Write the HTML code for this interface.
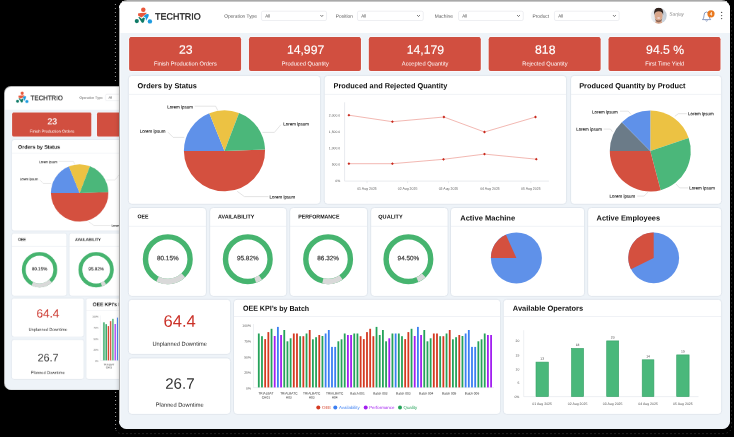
<!DOCTYPE html>
<html><head><meta charset="utf-8"><style>
html,body{margin:0;padding:0;}
body{width:734px;height:437px;overflow:hidden;position:relative;background:#000;font-family:"Liberation Sans", sans-serif;}
.win{position:absolute;width:611px;height:427.5px;border-radius:7.5px;background:#eef3f8;overflow:hidden;}
svg{position:absolute;left:0;top:0;font-family:"Liberation Sans", sans-serif;text-rendering:geometricPrecision;will-change:transform;}
</style></head><body>
<div style="position:absolute;left:4.1px;top:85.9px;width:434px;height:304px;border-radius:7px;background:#b4b4b4"></div>
<div class="win" style="left:4.78px;top:86.6px;transform:scale(0.7074);transform-origin:0 0;border-radius:9px;"><svg width="611" height="428" viewBox="119 1 611 428"><rect x="119" y="1" width="611" height="32" rx="0" fill="#ffffff"/><g>
<circle cx="143.3" cy="9.7" r="2.25" fill="#e9573b"/>
<path d="M138 13.6 L140.6 13.1 L146.6 12.7 L146.1 13.9 L143.1 16.2 L141.6 17.4 L138.2 15.8 Z" fill="#e9573b"/>
<path d="M143.4 16.3 L146.1 14.3 Q147.6 13.7 148.4 14.1 Q149.2 15.0 148.3 16.9 L146.9 19.2 L146.1 20.7 L145.7 18.7 L145.5 17.4 Z" fill="#1d9be0"/>
<path d="M138.3 17.0 L139.9 17.3 L141.8 19.0 L143.3 17.4 L144.9 18.1 L144.2 21.2 L143.1 23.1 L141.7 22.6 L140.1 20.1 Z" fill="#0f7b67"/>
<circle cx="136.8" cy="21.1" r="2.1" fill="#0f7b67"/>
<circle cx="149.9" cy="21.4" r="2.2" fill="#1d9be0"/>
</g><text x="155.1" y="19.44" font-size="9" fill="#1e1e1e" text-anchor="start" font-weight="normal" transform="rotate(0.05 155.1 19.44)" stroke="#1e1e1e" stroke-width="0.3" textLength="45.6" lengthAdjust="spacingAndGlyphs">TECHTRIO</text><text x="224.2" y="17.73" font-size="4.8" fill="#555" text-anchor="start" font-weight="normal" transform="rotate(0.05 224.2 17.73)">Operation Type</text><rect x="261.45" y="11.2" width="65.1" height="9.3" rx="1.5" fill="#fff" stroke="#dcdfe4" stroke-width="0.5"/><text x="265.2" y="17.48" font-size="4.4" fill="#444" text-anchor="start" font-weight="normal" transform="rotate(0.05 265.2 17.48)">All</text><polyline points="320.4,15.1 321.8,16.5 323.2,15.1" fill="none" stroke="#444" stroke-width="0.75"/><text x="335.8" y="17.73" font-size="4.8" fill="#555" text-anchor="start" font-weight="normal" transform="rotate(0.05 335.8 17.73)">Position</text><rect x="357.45" y="11.2" width="65.8" height="9.3" rx="1.5" fill="#fff" stroke="#dcdfe4" stroke-width="0.5"/><text x="361.2" y="17.48" font-size="4.4" fill="#444" text-anchor="start" font-weight="normal" transform="rotate(0.05 361.2 17.48)">All</text><polyline points="417.1,15.1 418.5,16.5 419.9,15.1" fill="none" stroke="#444" stroke-width="0.75"/><text x="434.7" y="17.73" font-size="4.8" fill="#555" text-anchor="start" font-weight="normal" transform="rotate(0.05 434.7 17.73)">Machine</text><rect x="458.55" y="11.2" width="64.7" height="9.3" rx="1.5" fill="#fff" stroke="#dcdfe4" stroke-width="0.5"/><text x="462.3" y="17.48" font-size="4.4" fill="#444" text-anchor="start" font-weight="normal" transform="rotate(0.05 462.3 17.48)">All</text><polyline points="517.1,15.1 518.5,16.5 519.9,15.1" fill="none" stroke="#444" stroke-width="0.75"/><text x="532.5" y="17.73" font-size="4.8" fill="#555" text-anchor="start" font-weight="normal" transform="rotate(0.05 532.5 17.73)">Product</text><rect x="554.45" y="11.2" width="64.7" height="9.3" rx="1.5" fill="#fff" stroke="#dcdfe4" stroke-width="0.5"/><text x="558.2" y="17.48" font-size="4.4" fill="#444" text-anchor="start" font-weight="normal" transform="rotate(0.05 558.2 17.48)">All</text><polyline points="613,15.1 614.4,16.5 615.8,15.1" fill="none" stroke="#444" stroke-width="0.75"/><g>
<defs><linearGradient id="avgs" x1="0" y1="0" x2="1" y2="0"><stop offset="0" stop-color="#eef1f4"/><stop offset="1" stop-color="#c3ccd6"/></linearGradient></defs>
<circle cx="658.7" cy="15.7" r="8" fill="url(#avgs)"/>
<clipPath id="avs"><circle cx="658.7" cy="15.7" r="8"/></clipPath>
<g clip-path="url(#avs)">
<path d="M656.2 19.5 L661.2 19.5 L662.5 24 L655 24 Z" fill="#d9a58a"/>
<ellipse cx="658.6" cy="15.8" rx="4" ry="5" fill="#d8a68b"/>
<path d="M654.8 18.2 Q655.6 22 658.6 22.2 Q661.6 22 662.4 18.2 Q661.4 20.4 658.6 20.6 Q655.8 20.4 654.8 18.2Z" fill="#7a5646" opacity="0.8"/>
<path d="M654.2 15.2 Q653.4 7.8 658.7 7.6 Q664 7.8 663.1 15.2 Q662.6 11.4 658.7 11.2 Q654.8 11.4 654.2 15.2Z" fill="#33231d"/>
<ellipse cx="658.7" cy="18" rx="1.6" ry="0.7" fill="#f3dede"/>
</g></g><text x="669.3" y="15.63" font-size="4.8" fill="#8a8a8a" text-anchor="start" font-weight="normal" transform="rotate(0.05 669.3 15.63)" font-style="italic">Sanjay</text><g fill="none" stroke="#5a74a8" stroke-width="0.7">
<path d="M702.5 19.6 Q704 18.6 704 15.5 Q704 12 706.6 12 Q709.2 12 709.2 15.5 Q709.2 18.6 710.7 19.6 Z"/>
<path d="M705.6 20.6 Q706.6 21.6 707.6 20.6"/>
</g>
<circle cx="711" cy="13.8" r="3.6" fill="#e9781e"/><text x="711" y="15.46" font-size="4.6" fill="#fff" text-anchor="middle" font-weight="bold" transform="rotate(0.05 711 15.46)">4</text><circle cx="721.6" cy="12.4" r="0.7" fill="#555"/><circle cx="721.6" cy="15.6" r="0.7" fill="#555"/><circle cx="721.6" cy="18.6" r="0.7" fill="#555"/><rect x="128.4" y="36.5" width="113.4" height="35.2" rx="2.6" fill="#fbfdff"/><rect x="129.1" y="37.2" width="112" height="33.8" rx="2" fill="#d14f40"/><rect x="130.1" y="37.2" width="110" height="0.7" rx="0" fill="#c63f30"/><text x="185.7" y="53.89" font-size="12.2" fill="#fff" text-anchor="middle" font-weight="normal" transform="rotate(0.05 185.7 53.89)" stroke="#fff" stroke-width="0.15">23</text><text x="185.4" y="65.45" font-size="5.7" fill="#fff" text-anchor="middle" font-weight="normal" transform="rotate(0.05 185.4 65.45)">Finish Production Orders</text><rect x="248.25" y="36.5" width="113.4" height="35.2" rx="2.6" fill="#fbfdff"/><rect x="248.95" y="37.2" width="112" height="33.8" rx="2" fill="#d14f40"/><rect x="249.95" y="37.2" width="110" height="0.7" rx="0" fill="#c63f30"/><text x="305.55" y="53.89" font-size="12.2" fill="#fff" text-anchor="middle" font-weight="normal" transform="rotate(0.05 305.55 53.89)" stroke="#fff" stroke-width="0.15">14,997</text><text x="305.25" y="65.45" font-size="5.7" fill="#fff" text-anchor="middle" font-weight="normal" transform="rotate(0.05 305.25 65.45)">Produced Quantity</text><rect x="368.1" y="36.5" width="113.4" height="35.2" rx="2.6" fill="#fbfdff"/><rect x="368.8" y="37.2" width="112" height="33.8" rx="2" fill="#d14f40"/><rect x="369.8" y="37.2" width="110" height="0.7" rx="0" fill="#c63f30"/><text x="425.4" y="53.89" font-size="12.2" fill="#fff" text-anchor="middle" font-weight="normal" transform="rotate(0.05 425.4 53.89)" stroke="#fff" stroke-width="0.15">14,179</text><text x="425.1" y="65.45" font-size="5.7" fill="#fff" text-anchor="middle" font-weight="normal" transform="rotate(0.05 425.1 65.45)">Accepted Quantity</text><rect x="487.95" y="36.5" width="113.4" height="35.2" rx="2.6" fill="#fbfdff"/><rect x="488.65" y="37.2" width="112" height="33.8" rx="2" fill="#d14f40"/><rect x="489.65" y="37.2" width="110" height="0.7" rx="0" fill="#c63f30"/><text x="545.25" y="53.89" font-size="12.2" fill="#fff" text-anchor="middle" font-weight="normal" transform="rotate(0.05 545.25 53.89)" stroke="#fff" stroke-width="0.15">818</text><text x="544.95" y="65.45" font-size="5.7" fill="#fff" text-anchor="middle" font-weight="normal" transform="rotate(0.05 544.95 65.45)">Rejected Quantity</text><rect x="607.8" y="36.5" width="113.4" height="35.2" rx="2.6" fill="#fbfdff"/><rect x="608.5" y="37.2" width="112" height="33.8" rx="2" fill="#d14f40"/><rect x="609.5" y="37.2" width="110" height="0.7" rx="0" fill="#c63f30"/><text x="665.1" y="53.89" font-size="12.2" fill="#fff" text-anchor="middle" font-weight="normal" transform="rotate(0.05 665.1 53.89)" stroke="#fff" stroke-width="0.15">94.5 %</text><text x="664.8" y="65.45" font-size="5.7" fill="#fff" text-anchor="middle" font-weight="normal" transform="rotate(0.05 664.8 65.45)">First Time Yield</text><rect x="128.3" y="75.4" width="192.3" height="128.9" rx="3.5" fill="#fff" stroke="#e1e7ee" stroke-width="1"/><line x1="128.3" y1="94.4" x2="320.6" y2="94.4" stroke="#e6eaf0" stroke-width="0.6"/><text x="137.6" y="88.25" font-size="7.37" fill="#111" text-anchor="start" font-weight="bold" transform="rotate(0.05 137.6 88.25)">Orders by Status</text><rect x="324.2" y="75.4" width="242.4" height="128.9" rx="3.5" fill="#fff" stroke="#e1e7ee" stroke-width="1"/><line x1="324.2" y1="94.4" x2="566.6" y2="94.4" stroke="#e6eaf0" stroke-width="0.6"/><text x="333.6" y="88.25" font-size="7.37" fill="#111" text-anchor="start" font-weight="bold" transform="rotate(0.05 333.6 88.25)">Produced and Rejected Quantity</text><rect x="570.6" y="75.4" width="151.1" height="128.9" rx="3.5" fill="#fff" stroke="#e1e7ee" stroke-width="1"/><line x1="570.6" y1="94.4" x2="721.7" y2="94.4" stroke="#e6eaf0" stroke-width="0.6"/><text x="579.2" y="88.25" font-size="7.37" fill="#111" text-anchor="start" font-weight="bold" transform="rotate(0.05 579.2 88.25)">Produced Quantity by Product</text><path d="M224.5 150.9L265.08 149.48A40.6 40.6 0 1 1 183.9 150.9Z" fill="#d4503f"/><path d="M224.5 150.9L183.9 150.9A40.6 40.6 0 0 1 209.29 113.26Z" fill="#5f91e9"/><path d="M224.5 150.9L209.29 113.26A40.6 40.6 0 0 1 239.05 113Z" fill="#ecc243"/><path d="M224.5 150.9L239.05 113A40.6 40.6 0 0 1 265.08 149.48Z" fill="#4bb77a"/><text x="167.2" y="108.5" font-size="4.45" fill="#222" text-anchor="start" font-weight="normal" transform="rotate(0.05 167.2 108.5)" stroke="#222" stroke-width="0.1">Lorem ipsum</text><polyline points="194.7,106.2 215.6,106.2 217.8,110.6" fill="none" stroke="#c8c8c8" stroke-width="0.5"/><text x="139.7" y="132.8" font-size="4.45" fill="#222" text-anchor="start" font-weight="normal" transform="rotate(0.05 139.7 132.8)" stroke="#222" stroke-width="0.1">Lorem ipsum</text><polyline points="168,132.2 173.2,137.4 184.3,137.4" fill="none" stroke="#c8c8c8" stroke-width="0.5"/><text x="283.3" y="125.6" font-size="4.45" fill="#222" text-anchor="start" font-weight="normal" transform="rotate(0.05 283.3 125.6)" stroke="#222" stroke-width="0.1">Lorem ipsum</text><polyline points="262.4,132.4 274.4,132.4 280.9,124.7" fill="none" stroke="#c8c8c8" stroke-width="0.5"/><text x="269.6" y="198.4" font-size="4.45" fill="#222" text-anchor="start" font-weight="normal" transform="rotate(0.05 269.6 198.4)" stroke="#222" stroke-width="0.1">Lorem ipsum</text><polyline points="237.2,191.3 244.4,196.6 268.4,196.6" fill="none" stroke="#c8c8c8" stroke-width="0.5"/><line x1="344.6" y1="102.3" x2="344.6" y2="181.1" stroke="#d8dce2" stroke-width="0.6"/><line x1="344.6" y1="181.1" x2="548.9" y2="181.1" stroke="#d8dce2" stroke-width="0.6"/><text x="340.2" y="116.42" font-size="3.4" fill="#555" text-anchor="end" font-weight="normal" transform="rotate(0.05 340.2 116.42)">2,000.0</text><text x="340.2" y="132.92" font-size="3.4" fill="#555" text-anchor="end" font-weight="normal" transform="rotate(0.05 340.2 132.92)">1,500.0</text><text x="340.2" y="149.22" font-size="3.4" fill="#555" text-anchor="end" font-weight="normal" transform="rotate(0.05 340.2 149.22)">1,000.0</text><text x="340.2" y="165.52" font-size="3.4" fill="#555" text-anchor="end" font-weight="normal" transform="rotate(0.05 340.2 165.52)">500.0</text><text x="340.2" y="182.12" font-size="3.4" fill="#555" text-anchor="end" font-weight="normal" transform="rotate(0.05 340.2 182.12)">0%</text><line x1="367" y1="181.1" x2="367" y2="183.2" stroke="#d8dce2" stroke-width="0.5"/><text x="367" y="189.66" font-size="3.5" fill="#555" text-anchor="middle" font-weight="normal" transform="rotate(0.05 367 189.66)">01 Aug 2025</text><line x1="407.6" y1="181.1" x2="407.6" y2="183.2" stroke="#d8dce2" stroke-width="0.5"/><text x="407.6" y="189.66" font-size="3.5" fill="#555" text-anchor="middle" font-weight="normal" transform="rotate(0.05 407.6 189.66)">02 Aug 2025</text><line x1="448.5" y1="181.1" x2="448.5" y2="183.2" stroke="#d8dce2" stroke-width="0.5"/><text x="448.5" y="189.66" font-size="3.5" fill="#555" text-anchor="middle" font-weight="normal" transform="rotate(0.05 448.5 189.66)">03 Aug 2025</text><line x1="490" y1="181.1" x2="490" y2="183.2" stroke="#d8dce2" stroke-width="0.5"/><text x="490" y="189.66" font-size="3.5" fill="#555" text-anchor="middle" font-weight="normal" transform="rotate(0.05 490 189.66)">04 Aug 2025</text><line x1="530.8" y1="181.1" x2="530.8" y2="183.2" stroke="#d8dce2" stroke-width="0.5"/><text x="530.8" y="189.66" font-size="3.5" fill="#555" text-anchor="middle" font-weight="normal" transform="rotate(0.05 530.8 189.66)">05 Aug 2025</text><polyline points="348.9,115.2 392.4,121.7 443.9,117 484.5,132 535.5,117" fill="none" stroke="#ec9a90" stroke-width="0.7"/><rect x="347.9" y="114.2" width="2" height="2" fill="#c8281c" transform="rotate(45 348.9 115.2)"/><rect x="391.4" y="120.7" width="2" height="2" fill="#c8281c" transform="rotate(45 392.4 121.7)"/><rect x="442.9" y="116" width="2" height="2" fill="#c8281c" transform="rotate(45 443.9 117)"/><rect x="483.5" y="131" width="2" height="2" fill="#c8281c" transform="rotate(45 484.5 132)"/><rect x="534.5" y="116" width="2" height="2" fill="#c8281c" transform="rotate(45 535.5 117)"/><polyline points="348.9,163.7 392.4,163.7 443.5,159.3 484.5,154.1 536.3,159.2" fill="none" stroke="#ec9a90" stroke-width="0.7"/><rect x="347.9" y="162.7" width="2" height="2" fill="#c8281c" transform="rotate(45 348.9 163.7)"/><rect x="391.4" y="162.7" width="2" height="2" fill="#c8281c" transform="rotate(45 392.4 163.7)"/><rect x="442.5" y="158.3" width="2" height="2" fill="#c8281c" transform="rotate(45 443.5 159.3)"/><rect x="483.5" y="153.1" width="2" height="2" fill="#c8281c" transform="rotate(45 484.5 154.1)"/><rect x="535.3" y="158.2" width="2" height="2" fill="#c8281c" transform="rotate(45 536.3 159.2)"/><path d="M650.3 151L650.3 110.5A40.5 40.5 0 0 1 688.66 138.02Z" fill="#ecc243"/><path d="M650.3 151L688.66 138.02A40.5 40.5 0 0 1 660.65 190.16Z" fill="#4bb77a"/><path d="M650.3 151L660.65 190.16A40.5 40.5 0 0 1 609.8 151Z" fill="#d4503f"/><path d="M650.3 151L609.8 151A40.5 40.5 0 0 1 621.81 122.21Z" fill="#6b7b88"/><path d="M650.3 151L621.81 122.21A40.5 40.5 0 0 1 650.3 110.5Z" fill="#5f91e9"/><text x="592" y="113.5" font-size="4.45" fill="#222" text-anchor="start" font-weight="normal" transform="rotate(0.05 592 113.5)" stroke="#222" stroke-width="0.1">Lorem ipsum</text><polyline points="620,111.2 628.3,111.2 631,114.4" fill="none" stroke="#c8c8c8" stroke-width="0.5"/><text x="576.2" y="130.7" font-size="4.45" fill="#222" text-anchor="start" font-weight="normal" transform="rotate(0.05 576.2 130.7)" stroke="#222" stroke-width="0.1">Lorem ipsum</text><polyline points="603.6,129.1 610.5,129.1 612.5,131.8" fill="none" stroke="#c8c8c8" stroke-width="0.5"/><text x="688" y="115.3" font-size="4.45" fill="#222" text-anchor="start" font-weight="normal" transform="rotate(0.05 688 115.3)" stroke="#222" stroke-width="0.1">Lorem ipsum</text><polyline points="674.8,116.3 678.4,113.7 686.8,113.7" fill="none" stroke="#c8c8c8" stroke-width="0.5"/><text x="689.2" y="189.5" font-size="4.45" fill="#222" text-anchor="start" font-weight="normal" transform="rotate(0.05 689.2 189.5)" stroke="#222" stroke-width="0.1">Lorem ipsum</text><polyline points="676,184 679.6,187.9 688,187.9" fill="none" stroke="#c8c8c8" stroke-width="0.5"/><text x="609.6" y="197.7" font-size="4.45" fill="#222" text-anchor="start" font-weight="normal" transform="rotate(0.05 609.6 197.7)" stroke="#222" stroke-width="0.1">Lorem ipsum</text><polyline points="637.2,196.1 644,196.1 648.2,192" fill="none" stroke="#c8c8c8" stroke-width="0.5"/><rect x="128.3" y="207.5" width="78.1" height="88.9" rx="3.5" fill="#fff" stroke="#e1e7ee" stroke-width="1"/><line x1="128.3" y1="226.3" x2="206.4" y2="226.3" stroke="#e6eaf0" stroke-width="0.6"/><text x="137.4" y="218.38" font-size="5.5" fill="#111" text-anchor="start" font-weight="bold" transform="rotate(0.05 137.4 218.38)" textLength="11" lengthAdjust="spacingAndGlyphs">OEE</text><circle cx="167.8" cy="259.2" r="22.3" fill="none" stroke="#46b46f" stroke-width="5.4"/><path d="M183.29 275.24A22.3 22.3 0 0 1 157.52 278.99" fill="none" stroke="#d9d9d9" stroke-width="5.4"/><text x="167.8" y="260.17" font-size="6.3" fill="#3a3a3a" text-anchor="middle" font-weight="normal" transform="rotate(0.05 167.8 260.17)" stroke="#3a3a3a" stroke-width="0.18" textLength="21.6" lengthAdjust="spacingAndGlyphs">80.15%</text><rect x="209.7" y="207.5" width="77.1" height="88.9" rx="3.5" fill="#fff" stroke="#e1e7ee" stroke-width="1"/><line x1="209.7" y1="226.3" x2="286.8" y2="226.3" stroke="#e6eaf0" stroke-width="0.6"/><text x="218" y="218.38" font-size="5.5" fill="#111" text-anchor="start" font-weight="bold" transform="rotate(0.05 218 218.38)" textLength="36.3" lengthAdjust="spacingAndGlyphs">AVAILABILITY</text><circle cx="247.8" cy="259.2" r="22.3" fill="none" stroke="#46b46f" stroke-width="5.4"/><path d="M260.43 277.58A22.3 22.3 0 0 1 255.23 280.23" fill="none" stroke="#d9d9d9" stroke-width="5.4"/><text x="247.8" y="260.17" font-size="6.3" fill="#3a3a3a" text-anchor="middle" font-weight="normal" transform="rotate(0.05 247.8 260.17)" stroke="#3a3a3a" stroke-width="0.18" textLength="21.6" lengthAdjust="spacingAndGlyphs">95.82%</text><rect x="289.7" y="207.5" width="77.9" height="88.9" rx="3.5" fill="#fff" stroke="#e1e7ee" stroke-width="1"/><line x1="289.7" y1="226.3" x2="367.6" y2="226.3" stroke="#e6eaf0" stroke-width="0.6"/><text x="298.3" y="218.38" font-size="5.5" fill="#111" text-anchor="start" font-weight="bold" transform="rotate(0.05 298.3 218.38)" textLength="41.1" lengthAdjust="spacingAndGlyphs">PERFORMANCE</text><circle cx="328.1" cy="259.2" r="22.3" fill="none" stroke="#46b46f" stroke-width="5.4"/><path d="M341.05 277.35A22.3 22.3 0 0 1 322.8 280.86" fill="none" stroke="#d9d9d9" stroke-width="5.4"/><text x="328.1" y="260.17" font-size="6.3" fill="#3a3a3a" text-anchor="middle" font-weight="normal" transform="rotate(0.05 328.1 260.17)" stroke="#3a3a3a" stroke-width="0.18" textLength="21.6" lengthAdjust="spacingAndGlyphs">86.32%</text><rect x="370.7" y="207.5" width="77.4" height="88.9" rx="3.5" fill="#fff" stroke="#e1e7ee" stroke-width="1"/><line x1="370.7" y1="226.3" x2="448.1" y2="226.3" stroke="#e6eaf0" stroke-width="0.6"/><text x="378.3" y="218.38" font-size="5.5" fill="#111" text-anchor="start" font-weight="bold" transform="rotate(0.05 378.3 218.38)" textLength="24.4" lengthAdjust="spacingAndGlyphs">QUALITY</text><circle cx="408.4" cy="259.2" r="22.3" fill="none" stroke="#46b46f" stroke-width="5.4"/><path d="M423.75 275.38A22.3 22.3 0 0 1 417.36 279.62" fill="none" stroke="#d9d9d9" stroke-width="5.4"/><text x="408.4" y="260.17" font-size="6.3" fill="#3a3a3a" text-anchor="middle" font-weight="normal" transform="rotate(0.05 408.4 260.17)" stroke="#3a3a3a" stroke-width="0.18" textLength="21.6" lengthAdjust="spacingAndGlyphs">94.50%</text><rect x="450.5" y="207.5" width="134.1" height="88.9" rx="3.5" fill="#fff" stroke="#e1e7ee" stroke-width="1"/><line x1="450.5" y1="226.3" x2="584.6" y2="226.3" stroke="#e6eaf0" stroke-width="0.6"/><text x="460.2" y="220.45" font-size="7.37" fill="#111" text-anchor="start" font-weight="bold" transform="rotate(0.05 460.2 220.45)" textLength="55" lengthAdjust="spacingAndGlyphs">Active Machine</text><rect x="587.7" y="207.5" width="134" height="88.9" rx="3.5" fill="#fff" stroke="#e1e7ee" stroke-width="1"/><line x1="587.7" y1="226.3" x2="721.7" y2="226.3" stroke="#e6eaf0" stroke-width="0.6"/><text x="596.6" y="220.45" font-size="7.37" fill="#111" text-anchor="start" font-weight="bold" transform="rotate(0.05 596.6 220.45)" textLength="63.5" lengthAdjust="spacingAndGlyphs">Active Employees</text><circle cx="516.4" cy="257.9" r="25.5" fill="#5f91e9"/><path d="M516.4 257.9L490.9 257.9A25.5 25.5 0 0 1 505.91 234.66Z" fill="#d4503f"/><circle cx="653.7" cy="257.9" r="25.4" fill="#5f91e9"/><path d="M653.7 257.9L630.93 269.15A25.4 25.4 0 0 1 653.7 232.5Z" fill="#d4503f"/><rect x="128.3" y="299.3" width="102.4" height="55.1" rx="3.5" fill="#fff" stroke="#e1e7ee" stroke-width="1"/><text x="179.7" y="326.68" font-size="16.6" fill="#cb3128" text-anchor="middle" font-weight="normal" transform="rotate(0.05 179.7 326.68)">64.4</text><text x="179.7" y="345.85" font-size="5.7" fill="#222" text-anchor="middle" font-weight="normal" transform="rotate(0.05 179.7 345.85)">Unplanned Downtime</text><rect x="128.3" y="357.9" width="102.4" height="56.5" rx="3.5" fill="#fff" stroke="#e1e7ee" stroke-width="1"/><text x="179.9" y="388.69" font-size="15.1" fill="#333" text-anchor="middle" font-weight="normal" transform="rotate(0.05 179.9 388.69)">26.7</text><text x="179.7" y="406.65" font-size="5.7" fill="#222" text-anchor="middle" font-weight="normal" transform="rotate(0.05 179.7 406.65)">Planned Downtime</text><rect x="233.5" y="299.3" width="267.1" height="115.1" rx="3.5" fill="#fff" stroke="#e1e7ee" stroke-width="1"/><line x1="233.5" y1="316.5" x2="500.6" y2="316.5" stroke="#e6eaf0" stroke-width="0.6"/><text x="242.9" y="310.85" font-size="7.37" fill="#111" text-anchor="start" font-weight="bold" transform="rotate(0.05 242.9 310.85)" textLength="66.3" lengthAdjust="spacingAndGlyphs">OEE KPI&#8217;s by Batch</text><rect x="503.2" y="299.3" width="218.5" height="115.1" rx="3.5" fill="#fff" stroke="#e1e7ee" stroke-width="1"/><line x1="503.2" y1="316.5" x2="721.7" y2="316.5" stroke="#e6eaf0" stroke-width="0.6"/><text x="512.8" y="310.75" font-size="7.37" fill="#111" text-anchor="start" font-weight="bold" transform="rotate(0.05 512.8 310.75)" textLength="70.4" lengthAdjust="spacingAndGlyphs">Available Operators</text><line x1="253.5" y1="387.6" x2="494" y2="387.6" stroke="#dde1e6" stroke-width="0.5"/><line x1="253.5" y1="324" x2="253.5" y2="387.6" stroke="#dde1e6" stroke-width="0.5"/><rect x="257.9" y="333.5" width="1.8" height="53.9" rx="0" fill="#25a35a"/><rect x="261.08" y="336.2" width="1.8" height="51.2" rx="0" fill="#25a35a"/><rect x="264.26" y="339.1" width="1.8" height="48.3" rx="0" fill="#d43a22"/><rect x="267.45" y="332.1" width="1.8" height="55.3" rx="0" fill="#d43a22"/><rect x="270.63" y="328.8" width="1.8" height="58.6" rx="0" fill="#25a35a"/><rect x="273.81" y="336" width="1.8" height="51.4" rx="0" fill="#a21ff0"/><rect x="276.99" y="326.9" width="1.8" height="60.5" rx="0" fill="#3b7ff2"/><rect x="280.17" y="335" width="1.8" height="52.4" rx="0" fill="#a21ff0"/><rect x="283.36" y="330" width="1.8" height="57.4" rx="0" fill="#25a35a"/><rect x="286.54" y="341.3" width="1.8" height="46.1" rx="0" fill="#25a35a"/><rect x="289.72" y="338.3" width="1.8" height="49.1" rx="0" fill="#25a35a"/><rect x="292.9" y="333.5" width="1.8" height="53.9" rx="0" fill="#d43a22"/><rect x="296.08" y="333.5" width="1.8" height="53.9" rx="0" fill="#d43a22"/><rect x="299.27" y="336.2" width="1.8" height="51.2" rx="0" fill="#25a35a"/><rect x="302.45" y="336.2" width="1.8" height="51.2" rx="0" fill="#d43a22"/><rect x="305.63" y="333.5" width="1.8" height="53.9" rx="0" fill="#25a35a"/><rect x="308.81" y="330" width="1.8" height="57.4" rx="0" fill="#d43a22"/><rect x="311.99" y="339.3" width="1.8" height="48.1" rx="0" fill="#25a35a"/><rect x="315.18" y="337.2" width="1.8" height="50.2" rx="0" fill="#25a35a"/><rect x="318.36" y="335" width="1.8" height="52.4" rx="0" fill="#d43a22"/><rect x="321.54" y="336" width="1.8" height="51.4" rx="0" fill="#25a35a"/><rect x="324.72" y="333.5" width="1.8" height="53.9" rx="0" fill="#3b7ff2"/><rect x="327.9" y="330" width="1.8" height="57.4" rx="0" fill="#3b7ff2"/><rect x="331.09" y="346.9" width="1.8" height="40.5" rx="0" fill="#3b7ff2"/><rect x="334.27" y="346.9" width="1.8" height="40.5" rx="0" fill="#3b7ff2"/><rect x="337.45" y="341.3" width="1.8" height="46.1" rx="0" fill="#25a35a"/><rect x="340.63" y="339.3" width="1.8" height="48.1" rx="0" fill="#25a35a"/><rect x="343.81" y="333.5" width="1.8" height="53.9" rx="0" fill="#25a35a"/><rect x="347" y="335" width="1.8" height="52.4" rx="0" fill="#a21ff0"/><rect x="350.18" y="335" width="1.8" height="52.4" rx="0" fill="#a21ff0"/><rect x="353.36" y="333.5" width="1.8" height="53.9" rx="0" fill="#25a35a"/><rect x="356.54" y="333.5" width="1.8" height="53.9" rx="0" fill="#25a35a"/><rect x="359.72" y="336.2" width="1.8" height="51.2" rx="0" fill="#d43a22"/><rect x="362.91" y="339.1" width="1.8" height="48.3" rx="0" fill="#d43a22"/><rect x="366.09" y="332.1" width="1.8" height="55.3" rx="0" fill="#d43a22"/><rect x="369.27" y="328.8" width="1.8" height="58.6" rx="0" fill="#d43a22"/><rect x="372.45" y="336.2" width="1.8" height="51.2" rx="0" fill="#d43a22"/><rect x="375.63" y="326.9" width="1.8" height="60.5" rx="0" fill="#25a35a"/><rect x="378.82" y="335" width="1.8" height="52.4" rx="0" fill="#25a35a"/><rect x="382" y="330" width="1.8" height="57.4" rx="0" fill="#25a35a"/><rect x="385.18" y="341.3" width="1.8" height="46.1" rx="0" fill="#25a35a"/><rect x="388.36" y="338.3" width="1.8" height="49.1" rx="0" fill="#a21ff0"/><rect x="391.54" y="333.5" width="1.8" height="53.9" rx="0" fill="#25a35a"/><rect x="394.73" y="333.5" width="1.8" height="53.9" rx="0" fill="#3b7ff2"/><rect x="397.91" y="333.5" width="1.8" height="53.9" rx="0" fill="#25a35a"/><rect x="401.09" y="336.2" width="1.8" height="51.2" rx="0" fill="#25a35a"/><rect x="404.27" y="339.1" width="1.8" height="48.3" rx="0" fill="#d43a22"/><rect x="407.45" y="332.1" width="1.8" height="55.3" rx="0" fill="#d43a22"/><rect x="410.64" y="328.8" width="1.8" height="58.6" rx="0" fill="#25a35a"/><rect x="413.82" y="336" width="1.8" height="51.4" rx="0" fill="#a21ff0"/><rect x="417" y="326.9" width="1.8" height="60.5" rx="0" fill="#3b7ff2"/><rect x="420.18" y="335" width="1.8" height="52.4" rx="0" fill="#a21ff0"/><rect x="423.36" y="330" width="1.8" height="57.4" rx="0" fill="#25a35a"/><rect x="426.55" y="341.3" width="1.8" height="46.1" rx="0" fill="#25a35a"/><rect x="429.73" y="338.3" width="1.8" height="49.1" rx="0" fill="#25a35a"/><rect x="432.91" y="333.5" width="1.8" height="53.9" rx="0" fill="#d43a22"/><rect x="436.09" y="333.5" width="1.8" height="53.9" rx="0" fill="#d43a22"/><rect x="439.27" y="336.2" width="1.8" height="51.2" rx="0" fill="#25a35a"/><rect x="442.46" y="336.2" width="1.8" height="51.2" rx="0" fill="#d43a22"/><rect x="445.64" y="333.5" width="1.8" height="53.9" rx="0" fill="#25a35a"/><rect x="448.82" y="330" width="1.8" height="57.4" rx="0" fill="#d43a22"/><rect x="452" y="339.3" width="1.8" height="48.1" rx="0" fill="#25a35a"/><rect x="455.18" y="337.2" width="1.8" height="50.2" rx="0" fill="#25a35a"/><rect x="458.37" y="335" width="1.8" height="52.4" rx="0" fill="#d43a22"/><rect x="461.55" y="336" width="1.8" height="51.4" rx="0" fill="#25a35a"/><rect x="464.73" y="333.5" width="1.8" height="53.9" rx="0" fill="#3b7ff2"/><rect x="467.91" y="330" width="1.8" height="57.4" rx="0" fill="#3b7ff2"/><rect x="471.09" y="346.9" width="1.8" height="40.5" rx="0" fill="#3b7ff2"/><rect x="474.28" y="346.9" width="1.8" height="40.5" rx="0" fill="#3b7ff2"/><rect x="477.46" y="341.3" width="1.8" height="46.1" rx="0" fill="#25a35a"/><rect x="480.64" y="339.3" width="1.8" height="48.1" rx="0" fill="#25a35a"/><rect x="483.82" y="333.5" width="1.8" height="53.9" rx="0" fill="#25a35a"/><rect x="487" y="335" width="1.8" height="52.4" rx="0" fill="#a21ff0"/><rect x="490.19" y="335" width="1.8" height="52.4" rx="0" fill="#a21ff0"/><text x="251" y="326.72" font-size="3.4" fill="#555" text-anchor="end" font-weight="normal" transform="rotate(0.05 251 326.72)">100%</text><text x="251" y="342.52" font-size="3.4" fill="#555" text-anchor="end" font-weight="normal" transform="rotate(0.05 251 342.52)">75%</text><text x="251" y="358.42" font-size="3.4" fill="#555" text-anchor="end" font-weight="normal" transform="rotate(0.05 251 358.42)">50%</text><text x="251" y="373.82" font-size="3.4" fill="#555" text-anchor="end" font-weight="normal" transform="rotate(0.05 251 373.82)">25%</text><text x="251" y="389.62" font-size="3.4" fill="#555" text-anchor="end" font-weight="normal" transform="rotate(0.05 251 389.62)">0%</text><text x="265.9" y="394.55" font-size="3.2" fill="#222" text-anchor="middle" font-weight="normal" transform="rotate(0.05 265.9 394.55)">TRIALBAT</text><text x="265.9" y="398.55" font-size="3.2" fill="#222" text-anchor="middle" font-weight="normal" transform="rotate(0.05 265.9 398.55)">CH01</text><text x="288.8" y="394.55" font-size="3.2" fill="#222" text-anchor="middle" font-weight="normal" transform="rotate(0.05 288.8 394.55)">TRIALBATC</text><text x="288.8" y="398.55" font-size="3.2" fill="#222" text-anchor="middle" font-weight="normal" transform="rotate(0.05 288.8 398.55)">H02</text><text x="311.7" y="394.55" font-size="3.2" fill="#222" text-anchor="middle" font-weight="normal" transform="rotate(0.05 311.7 394.55)">TRIALBATC</text><text x="311.7" y="398.55" font-size="3.2" fill="#222" text-anchor="middle" font-weight="normal" transform="rotate(0.05 311.7 398.55)">H03</text><text x="334.6" y="394.55" font-size="3.2" fill="#222" text-anchor="middle" font-weight="normal" transform="rotate(0.05 334.6 394.55)">TRIALBATC</text><text x="334.6" y="398.55" font-size="3.2" fill="#222" text-anchor="middle" font-weight="normal" transform="rotate(0.05 334.6 398.55)">H04</text><text x="357.5" y="394.55" font-size="3.2" fill="#222" text-anchor="middle" font-weight="normal" transform="rotate(0.05 357.5 394.55)">Batch 001</text><text x="380.4" y="394.55" font-size="3.2" fill="#222" text-anchor="middle" font-weight="normal" transform="rotate(0.05 380.4 394.55)">Batch 002</text><text x="403.3" y="394.55" font-size="3.2" fill="#222" text-anchor="middle" font-weight="normal" transform="rotate(0.05 403.3 394.55)">Batch 003</text><text x="426.2" y="394.55" font-size="3.2" fill="#222" text-anchor="middle" font-weight="normal" transform="rotate(0.05 426.2 394.55)">Batch 004</text><text x="449.1" y="394.55" font-size="3.2" fill="#222" text-anchor="middle" font-weight="normal" transform="rotate(0.05 449.1 394.55)">Batch 005</text><text x="472" y="394.55" font-size="3.2" fill="#222" text-anchor="middle" font-weight="normal" transform="rotate(0.05 472 394.55)">Batch 006</text><circle cx="318.3" cy="407.5" r="2" fill="#d43a22"/><text x="322" y="409.08" font-size="4.4" fill="#d43a22" text-anchor="start" font-weight="normal" transform="rotate(0.05 322 409.08)">OEE</text><circle cx="335.3" cy="407.5" r="2" fill="#3b7ff2"/><text x="339" y="409.08" font-size="4.4" fill="#3b7ff2" text-anchor="start" font-weight="normal" transform="rotate(0.05 339 409.08)">Availability</text><circle cx="365.7" cy="407.5" r="2" fill="#a21ff0"/><text x="369.2" y="409.08" font-size="4.4" fill="#a21ff0" text-anchor="start" font-weight="normal" transform="rotate(0.05 369.2 409.08)">Performance</text><circle cx="400" cy="407.5" r="2" fill="#25a35a"/><text x="403.5" y="409.08" font-size="4.4" fill="#25a35a" text-anchor="start" font-weight="normal" transform="rotate(0.05 403.5 409.08)">Quality</text><line x1="523.7" y1="330.2" x2="523.7" y2="396.6" stroke="#dde1e6" stroke-width="0.5"/><line x1="523.7" y1="396.6" x2="698.5" y2="396.6" stroke="#dde1e6" stroke-width="0.5"/><text x="519.4" y="342.12" font-size="3.4" fill="#555" text-anchor="end" font-weight="normal" transform="rotate(0.05 519.4 342.12)">20</text><text x="519.4" y="356.42" font-size="3.4" fill="#555" text-anchor="end" font-weight="normal" transform="rotate(0.05 519.4 356.42)">15</text><text x="519.4" y="370.42" font-size="3.4" fill="#555" text-anchor="end" font-weight="normal" transform="rotate(0.05 519.4 370.42)">10</text><text x="519.4" y="384.12" font-size="3.4" fill="#555" text-anchor="end" font-weight="normal" transform="rotate(0.05 519.4 384.12)">5</text><text x="519.4" y="398.12" font-size="3.4" fill="#555" text-anchor="end" font-weight="normal" transform="rotate(0.05 519.4 398.12)">0%</text><rect x="536" y="362.1" width="12.4" height="34.5" rx="0" fill="#4ab87b" stroke="#35a065" stroke-width="0.6"/><text x="542.2" y="359.72" font-size="3.4" fill="#444" text-anchor="middle" font-weight="normal" transform="rotate(0.05 542.2 359.72)">13</text><text x="542.2" y="405.06" font-size="3.5" fill="#555" text-anchor="middle" font-weight="normal" transform="rotate(0.05 542.2 405.06)">01 Aug 2025</text><rect x="571.5" y="348.4" width="12.1" height="48.2" rx="0" fill="#4ab87b" stroke="#35a065" stroke-width="0.6"/><text x="577.55" y="346.02" font-size="3.4" fill="#444" text-anchor="middle" font-weight="normal" transform="rotate(0.05 577.55 346.02)">18</text><text x="577.55" y="405.06" font-size="3.5" fill="#555" text-anchor="middle" font-weight="normal" transform="rotate(0.05 577.55 405.06)">02 Aug 2025</text><rect x="606.7" y="340.9" width="12" height="55.7" rx="0" fill="#4ab87b" stroke="#35a065" stroke-width="0.6"/><text x="612.7" y="338.52" font-size="3.4" fill="#444" text-anchor="middle" font-weight="normal" transform="rotate(0.05 612.7 338.52)">20</text><text x="612.7" y="405.06" font-size="3.5" fill="#555" text-anchor="middle" font-weight="normal" transform="rotate(0.05 612.7 405.06)">03 Aug 2025</text><rect x="642.2" y="359.8" width="11.7" height="36.8" rx="0" fill="#4ab87b" stroke="#35a065" stroke-width="0.6"/><text x="648.05" y="357.42" font-size="3.4" fill="#444" text-anchor="middle" font-weight="normal" transform="rotate(0.05 648.05 357.42)">14</text><text x="648.05" y="405.06" font-size="3.5" fill="#555" text-anchor="middle" font-weight="normal" transform="rotate(0.05 648.05 405.06)">04 Aug 2025</text><rect x="676.7" y="354.9" width="12.4" height="41.7" rx="0" fill="#4ab87b" stroke="#35a065" stroke-width="0.6"/><text x="682.9" y="352.52" font-size="3.4" fill="#444" text-anchor="middle" font-weight="normal" transform="rotate(0.05 682.9 352.52)">15</text><text x="682.9" y="405.06" font-size="3.5" fill="#555" text-anchor="middle" font-weight="normal" transform="rotate(0.05 682.9 405.06)">05 Aug 2025</text></svg></div>
<div style="position:absolute;left:119px;top:0;width:611.4px;height:429px;border-radius:8.5px;background:#a9a9a9;box-shadow:0 0 4px rgba(0,0,0,.25)"></div>
<div class="win" style="left:119px;top:1px;"><svg width="611" height="428" viewBox="119 1 611 428"><rect x="119" y="1" width="611" height="32" rx="0" fill="#ffffff"/><g>
<circle cx="143.3" cy="9.7" r="2.25" fill="#e9573b"/>
<path d="M138 13.6 L140.6 13.1 L146.6 12.7 L146.1 13.9 L143.1 16.2 L141.6 17.4 L138.2 15.8 Z" fill="#e9573b"/>
<path d="M143.4 16.3 L146.1 14.3 Q147.6 13.7 148.4 14.1 Q149.2 15.0 148.3 16.9 L146.9 19.2 L146.1 20.7 L145.7 18.7 L145.5 17.4 Z" fill="#1d9be0"/>
<path d="M138.3 17.0 L139.9 17.3 L141.8 19.0 L143.3 17.4 L144.9 18.1 L144.2 21.2 L143.1 23.1 L141.7 22.6 L140.1 20.1 Z" fill="#0f7b67"/>
<circle cx="136.8" cy="21.1" r="2.1" fill="#0f7b67"/>
<circle cx="149.9" cy="21.4" r="2.2" fill="#1d9be0"/>
</g><text x="155.1" y="19.44" font-size="9" fill="#1e1e1e" text-anchor="start" font-weight="normal" transform="rotate(0.05 155.1 19.44)" stroke="#1e1e1e" stroke-width="0.3" textLength="45.6" lengthAdjust="spacingAndGlyphs">TECHTRIO</text><text x="224.2" y="17.73" font-size="4.8" fill="#555" text-anchor="start" font-weight="normal" transform="rotate(0.05 224.2 17.73)">Operation Type</text><rect x="261.45" y="11.2" width="65.1" height="9.3" rx="1.5" fill="#fff" stroke="#dcdfe4" stroke-width="0.5"/><text x="265.2" y="17.48" font-size="4.4" fill="#444" text-anchor="start" font-weight="normal" transform="rotate(0.05 265.2 17.48)">All</text><polyline points="320.4,15.1 321.8,16.5 323.2,15.1" fill="none" stroke="#444" stroke-width="0.75"/><text x="335.8" y="17.73" font-size="4.8" fill="#555" text-anchor="start" font-weight="normal" transform="rotate(0.05 335.8 17.73)">Position</text><rect x="357.45" y="11.2" width="65.8" height="9.3" rx="1.5" fill="#fff" stroke="#dcdfe4" stroke-width="0.5"/><text x="361.2" y="17.48" font-size="4.4" fill="#444" text-anchor="start" font-weight="normal" transform="rotate(0.05 361.2 17.48)">All</text><polyline points="417.1,15.1 418.5,16.5 419.9,15.1" fill="none" stroke="#444" stroke-width="0.75"/><text x="434.7" y="17.73" font-size="4.8" fill="#555" text-anchor="start" font-weight="normal" transform="rotate(0.05 434.7 17.73)">Machine</text><rect x="458.55" y="11.2" width="64.7" height="9.3" rx="1.5" fill="#fff" stroke="#dcdfe4" stroke-width="0.5"/><text x="462.3" y="17.48" font-size="4.4" fill="#444" text-anchor="start" font-weight="normal" transform="rotate(0.05 462.3 17.48)">All</text><polyline points="517.1,15.1 518.5,16.5 519.9,15.1" fill="none" stroke="#444" stroke-width="0.75"/><text x="532.5" y="17.73" font-size="4.8" fill="#555" text-anchor="start" font-weight="normal" transform="rotate(0.05 532.5 17.73)">Product</text><rect x="554.45" y="11.2" width="64.7" height="9.3" rx="1.5" fill="#fff" stroke="#dcdfe4" stroke-width="0.5"/><text x="558.2" y="17.48" font-size="4.4" fill="#444" text-anchor="start" font-weight="normal" transform="rotate(0.05 558.2 17.48)">All</text><polyline points="613,15.1 614.4,16.5 615.8,15.1" fill="none" stroke="#444" stroke-width="0.75"/><g>
<defs><linearGradient id="avgm" x1="0" y1="0" x2="1" y2="0"><stop offset="0" stop-color="#eef1f4"/><stop offset="1" stop-color="#c3ccd6"/></linearGradient></defs>
<circle cx="658.7" cy="15.7" r="8" fill="url(#avgm)"/>
<clipPath id="avm"><circle cx="658.7" cy="15.7" r="8"/></clipPath>
<g clip-path="url(#avm)">
<path d="M656.2 19.5 L661.2 19.5 L662.5 24 L655 24 Z" fill="#d9a58a"/>
<ellipse cx="658.6" cy="15.8" rx="4" ry="5" fill="#d8a68b"/>
<path d="M654.8 18.2 Q655.6 22 658.6 22.2 Q661.6 22 662.4 18.2 Q661.4 20.4 658.6 20.6 Q655.8 20.4 654.8 18.2Z" fill="#7a5646" opacity="0.8"/>
<path d="M654.2 15.2 Q653.4 7.8 658.7 7.6 Q664 7.8 663.1 15.2 Q662.6 11.4 658.7 11.2 Q654.8 11.4 654.2 15.2Z" fill="#33231d"/>
<ellipse cx="658.7" cy="18" rx="1.6" ry="0.7" fill="#f3dede"/>
</g></g><text x="669.3" y="15.63" font-size="4.8" fill="#8a8a8a" text-anchor="start" font-weight="normal" transform="rotate(0.05 669.3 15.63)" font-style="italic">Sanjay</text><g fill="none" stroke="#5a74a8" stroke-width="0.7">
<path d="M702.5 19.6 Q704 18.6 704 15.5 Q704 12 706.6 12 Q709.2 12 709.2 15.5 Q709.2 18.6 710.7 19.6 Z"/>
<path d="M705.6 20.6 Q706.6 21.6 707.6 20.6"/>
</g>
<circle cx="711" cy="13.8" r="3.6" fill="#e9781e"/><text x="711" y="15.46" font-size="4.6" fill="#fff" text-anchor="middle" font-weight="bold" transform="rotate(0.05 711 15.46)">4</text><circle cx="721.6" cy="12.4" r="0.7" fill="#555"/><circle cx="721.6" cy="15.6" r="0.7" fill="#555"/><circle cx="721.6" cy="18.6" r="0.7" fill="#555"/><rect x="128.4" y="36.5" width="113.4" height="35.2" rx="2.6" fill="#fbfdff"/><rect x="129.1" y="37.2" width="112" height="33.8" rx="2" fill="#d14f40"/><rect x="130.1" y="37.2" width="110" height="0.7" rx="0" fill="#c63f30"/><text x="185.7" y="53.89" font-size="12.2" fill="#fff" text-anchor="middle" font-weight="normal" transform="rotate(0.05 185.7 53.89)" stroke="#fff" stroke-width="0.15">23</text><text x="185.4" y="65.45" font-size="5.7" fill="#fff" text-anchor="middle" font-weight="normal" transform="rotate(0.05 185.4 65.45)">Finish Production Orders</text><rect x="248.25" y="36.5" width="113.4" height="35.2" rx="2.6" fill="#fbfdff"/><rect x="248.95" y="37.2" width="112" height="33.8" rx="2" fill="#d14f40"/><rect x="249.95" y="37.2" width="110" height="0.7" rx="0" fill="#c63f30"/><text x="305.55" y="53.89" font-size="12.2" fill="#fff" text-anchor="middle" font-weight="normal" transform="rotate(0.05 305.55 53.89)" stroke="#fff" stroke-width="0.15">14,997</text><text x="305.25" y="65.45" font-size="5.7" fill="#fff" text-anchor="middle" font-weight="normal" transform="rotate(0.05 305.25 65.45)">Produced Quantity</text><rect x="368.1" y="36.5" width="113.4" height="35.2" rx="2.6" fill="#fbfdff"/><rect x="368.8" y="37.2" width="112" height="33.8" rx="2" fill="#d14f40"/><rect x="369.8" y="37.2" width="110" height="0.7" rx="0" fill="#c63f30"/><text x="425.4" y="53.89" font-size="12.2" fill="#fff" text-anchor="middle" font-weight="normal" transform="rotate(0.05 425.4 53.89)" stroke="#fff" stroke-width="0.15">14,179</text><text x="425.1" y="65.45" font-size="5.7" fill="#fff" text-anchor="middle" font-weight="normal" transform="rotate(0.05 425.1 65.45)">Accepted Quantity</text><rect x="487.95" y="36.5" width="113.4" height="35.2" rx="2.6" fill="#fbfdff"/><rect x="488.65" y="37.2" width="112" height="33.8" rx="2" fill="#d14f40"/><rect x="489.65" y="37.2" width="110" height="0.7" rx="0" fill="#c63f30"/><text x="545.25" y="53.89" font-size="12.2" fill="#fff" text-anchor="middle" font-weight="normal" transform="rotate(0.05 545.25 53.89)" stroke="#fff" stroke-width="0.15">818</text><text x="544.95" y="65.45" font-size="5.7" fill="#fff" text-anchor="middle" font-weight="normal" transform="rotate(0.05 544.95 65.45)">Rejected Quantity</text><rect x="607.8" y="36.5" width="113.4" height="35.2" rx="2.6" fill="#fbfdff"/><rect x="608.5" y="37.2" width="112" height="33.8" rx="2" fill="#d14f40"/><rect x="609.5" y="37.2" width="110" height="0.7" rx="0" fill="#c63f30"/><text x="665.1" y="53.89" font-size="12.2" fill="#fff" text-anchor="middle" font-weight="normal" transform="rotate(0.05 665.1 53.89)" stroke="#fff" stroke-width="0.15">94.5 %</text><text x="664.8" y="65.45" font-size="5.7" fill="#fff" text-anchor="middle" font-weight="normal" transform="rotate(0.05 664.8 65.45)">First Time Yield</text><rect x="128.3" y="75.4" width="192.3" height="128.9" rx="3.5" fill="#fff" stroke="#e1e7ee" stroke-width="1"/><line x1="128.3" y1="94.4" x2="320.6" y2="94.4" stroke="#e6eaf0" stroke-width="0.6"/><text x="137.6" y="88.25" font-size="7.37" fill="#111" text-anchor="start" font-weight="bold" transform="rotate(0.05 137.6 88.25)">Orders by Status</text><rect x="324.2" y="75.4" width="242.4" height="128.9" rx="3.5" fill="#fff" stroke="#e1e7ee" stroke-width="1"/><line x1="324.2" y1="94.4" x2="566.6" y2="94.4" stroke="#e6eaf0" stroke-width="0.6"/><text x="333.6" y="88.25" font-size="7.37" fill="#111" text-anchor="start" font-weight="bold" transform="rotate(0.05 333.6 88.25)">Produced and Rejected Quantity</text><rect x="570.6" y="75.4" width="151.1" height="128.9" rx="3.5" fill="#fff" stroke="#e1e7ee" stroke-width="1"/><line x1="570.6" y1="94.4" x2="721.7" y2="94.4" stroke="#e6eaf0" stroke-width="0.6"/><text x="579.2" y="88.25" font-size="7.37" fill="#111" text-anchor="start" font-weight="bold" transform="rotate(0.05 579.2 88.25)">Produced Quantity by Product</text><path d="M224.5 150.9L265.08 149.48A40.6 40.6 0 1 1 183.9 150.9Z" fill="#d4503f"/><path d="M224.5 150.9L183.9 150.9A40.6 40.6 0 0 1 209.29 113.26Z" fill="#5f91e9"/><path d="M224.5 150.9L209.29 113.26A40.6 40.6 0 0 1 239.05 113Z" fill="#ecc243"/><path d="M224.5 150.9L239.05 113A40.6 40.6 0 0 1 265.08 149.48Z" fill="#4bb77a"/><text x="167.2" y="108.5" font-size="4.45" fill="#222" text-anchor="start" font-weight="normal" transform="rotate(0.05 167.2 108.5)" stroke="#222" stroke-width="0.1">Lorem ipsum</text><polyline points="194.7,106.2 215.6,106.2 217.8,110.6" fill="none" stroke="#c8c8c8" stroke-width="0.5"/><text x="139.7" y="132.8" font-size="4.45" fill="#222" text-anchor="start" font-weight="normal" transform="rotate(0.05 139.7 132.8)" stroke="#222" stroke-width="0.1">Lorem ipsum</text><polyline points="168,132.2 173.2,137.4 184.3,137.4" fill="none" stroke="#c8c8c8" stroke-width="0.5"/><text x="283.3" y="125.6" font-size="4.45" fill="#222" text-anchor="start" font-weight="normal" transform="rotate(0.05 283.3 125.6)" stroke="#222" stroke-width="0.1">Lorem ipsum</text><polyline points="262.4,132.4 274.4,132.4 280.9,124.7" fill="none" stroke="#c8c8c8" stroke-width="0.5"/><text x="269.6" y="198.4" font-size="4.45" fill="#222" text-anchor="start" font-weight="normal" transform="rotate(0.05 269.6 198.4)" stroke="#222" stroke-width="0.1">Lorem ipsum</text><polyline points="237.2,191.3 244.4,196.6 268.4,196.6" fill="none" stroke="#c8c8c8" stroke-width="0.5"/><line x1="344.6" y1="102.3" x2="344.6" y2="181.1" stroke="#d8dce2" stroke-width="0.6"/><line x1="344.6" y1="181.1" x2="548.9" y2="181.1" stroke="#d8dce2" stroke-width="0.6"/><text x="340.2" y="116.42" font-size="3.4" fill="#555" text-anchor="end" font-weight="normal" transform="rotate(0.05 340.2 116.42)">2,000.0</text><text x="340.2" y="132.92" font-size="3.4" fill="#555" text-anchor="end" font-weight="normal" transform="rotate(0.05 340.2 132.92)">1,500.0</text><text x="340.2" y="149.22" font-size="3.4" fill="#555" text-anchor="end" font-weight="normal" transform="rotate(0.05 340.2 149.22)">1,000.0</text><text x="340.2" y="165.52" font-size="3.4" fill="#555" text-anchor="end" font-weight="normal" transform="rotate(0.05 340.2 165.52)">500.0</text><text x="340.2" y="182.12" font-size="3.4" fill="#555" text-anchor="end" font-weight="normal" transform="rotate(0.05 340.2 182.12)">0%</text><line x1="367" y1="181.1" x2="367" y2="183.2" stroke="#d8dce2" stroke-width="0.5"/><text x="367" y="189.66" font-size="3.5" fill="#555" text-anchor="middle" font-weight="normal" transform="rotate(0.05 367 189.66)">01 Aug 2025</text><line x1="407.6" y1="181.1" x2="407.6" y2="183.2" stroke="#d8dce2" stroke-width="0.5"/><text x="407.6" y="189.66" font-size="3.5" fill="#555" text-anchor="middle" font-weight="normal" transform="rotate(0.05 407.6 189.66)">02 Aug 2025</text><line x1="448.5" y1="181.1" x2="448.5" y2="183.2" stroke="#d8dce2" stroke-width="0.5"/><text x="448.5" y="189.66" font-size="3.5" fill="#555" text-anchor="middle" font-weight="normal" transform="rotate(0.05 448.5 189.66)">03 Aug 2025</text><line x1="490" y1="181.1" x2="490" y2="183.2" stroke="#d8dce2" stroke-width="0.5"/><text x="490" y="189.66" font-size="3.5" fill="#555" text-anchor="middle" font-weight="normal" transform="rotate(0.05 490 189.66)">04 Aug 2025</text><line x1="530.8" y1="181.1" x2="530.8" y2="183.2" stroke="#d8dce2" stroke-width="0.5"/><text x="530.8" y="189.66" font-size="3.5" fill="#555" text-anchor="middle" font-weight="normal" transform="rotate(0.05 530.8 189.66)">05 Aug 2025</text><polyline points="348.9,115.2 392.4,121.7 443.9,117 484.5,132 535.5,117" fill="none" stroke="#ec9a90" stroke-width="0.7"/><rect x="347.9" y="114.2" width="2" height="2" fill="#c8281c" transform="rotate(45 348.9 115.2)"/><rect x="391.4" y="120.7" width="2" height="2" fill="#c8281c" transform="rotate(45 392.4 121.7)"/><rect x="442.9" y="116" width="2" height="2" fill="#c8281c" transform="rotate(45 443.9 117)"/><rect x="483.5" y="131" width="2" height="2" fill="#c8281c" transform="rotate(45 484.5 132)"/><rect x="534.5" y="116" width="2" height="2" fill="#c8281c" transform="rotate(45 535.5 117)"/><polyline points="348.9,163.7 392.4,163.7 443.5,159.3 484.5,154.1 536.3,159.2" fill="none" stroke="#ec9a90" stroke-width="0.7"/><rect x="347.9" y="162.7" width="2" height="2" fill="#c8281c" transform="rotate(45 348.9 163.7)"/><rect x="391.4" y="162.7" width="2" height="2" fill="#c8281c" transform="rotate(45 392.4 163.7)"/><rect x="442.5" y="158.3" width="2" height="2" fill="#c8281c" transform="rotate(45 443.5 159.3)"/><rect x="483.5" y="153.1" width="2" height="2" fill="#c8281c" transform="rotate(45 484.5 154.1)"/><rect x="535.3" y="158.2" width="2" height="2" fill="#c8281c" transform="rotate(45 536.3 159.2)"/><path d="M650.3 151L650.3 110.5A40.5 40.5 0 0 1 688.66 138.02Z" fill="#ecc243"/><path d="M650.3 151L688.66 138.02A40.5 40.5 0 0 1 660.65 190.16Z" fill="#4bb77a"/><path d="M650.3 151L660.65 190.16A40.5 40.5 0 0 1 609.8 151Z" fill="#d4503f"/><path d="M650.3 151L609.8 151A40.5 40.5 0 0 1 621.81 122.21Z" fill="#6b7b88"/><path d="M650.3 151L621.81 122.21A40.5 40.5 0 0 1 650.3 110.5Z" fill="#5f91e9"/><text x="592" y="113.5" font-size="4.45" fill="#222" text-anchor="start" font-weight="normal" transform="rotate(0.05 592 113.5)" stroke="#222" stroke-width="0.1">Lorem ipsum</text><polyline points="620,111.2 628.3,111.2 631,114.4" fill="none" stroke="#c8c8c8" stroke-width="0.5"/><text x="576.2" y="130.7" font-size="4.45" fill="#222" text-anchor="start" font-weight="normal" transform="rotate(0.05 576.2 130.7)" stroke="#222" stroke-width="0.1">Lorem ipsum</text><polyline points="603.6,129.1 610.5,129.1 612.5,131.8" fill="none" stroke="#c8c8c8" stroke-width="0.5"/><text x="688" y="115.3" font-size="4.45" fill="#222" text-anchor="start" font-weight="normal" transform="rotate(0.05 688 115.3)" stroke="#222" stroke-width="0.1">Lorem ipsum</text><polyline points="674.8,116.3 678.4,113.7 686.8,113.7" fill="none" stroke="#c8c8c8" stroke-width="0.5"/><text x="689.2" y="189.5" font-size="4.45" fill="#222" text-anchor="start" font-weight="normal" transform="rotate(0.05 689.2 189.5)" stroke="#222" stroke-width="0.1">Lorem ipsum</text><polyline points="676,184 679.6,187.9 688,187.9" fill="none" stroke="#c8c8c8" stroke-width="0.5"/><text x="609.6" y="197.7" font-size="4.45" fill="#222" text-anchor="start" font-weight="normal" transform="rotate(0.05 609.6 197.7)" stroke="#222" stroke-width="0.1">Lorem ipsum</text><polyline points="637.2,196.1 644,196.1 648.2,192" fill="none" stroke="#c8c8c8" stroke-width="0.5"/><rect x="128.3" y="207.5" width="78.1" height="88.9" rx="3.5" fill="#fff" stroke="#e1e7ee" stroke-width="1"/><line x1="128.3" y1="226.3" x2="206.4" y2="226.3" stroke="#e6eaf0" stroke-width="0.6"/><text x="137.4" y="218.38" font-size="5.5" fill="#111" text-anchor="start" font-weight="bold" transform="rotate(0.05 137.4 218.38)" textLength="11" lengthAdjust="spacingAndGlyphs">OEE</text><circle cx="167.8" cy="259.2" r="22.3" fill="none" stroke="#46b46f" stroke-width="5.4"/><path d="M183.29 275.24A22.3 22.3 0 0 1 157.52 278.99" fill="none" stroke="#d9d9d9" stroke-width="5.4"/><text x="167.8" y="260.17" font-size="6.3" fill="#3a3a3a" text-anchor="middle" font-weight="normal" transform="rotate(0.05 167.8 260.17)" stroke="#3a3a3a" stroke-width="0.18" textLength="21.6" lengthAdjust="spacingAndGlyphs">80.15%</text><rect x="209.7" y="207.5" width="77.1" height="88.9" rx="3.5" fill="#fff" stroke="#e1e7ee" stroke-width="1"/><line x1="209.7" y1="226.3" x2="286.8" y2="226.3" stroke="#e6eaf0" stroke-width="0.6"/><text x="218" y="218.38" font-size="5.5" fill="#111" text-anchor="start" font-weight="bold" transform="rotate(0.05 218 218.38)" textLength="36.3" lengthAdjust="spacingAndGlyphs">AVAILABILITY</text><circle cx="247.8" cy="259.2" r="22.3" fill="none" stroke="#46b46f" stroke-width="5.4"/><path d="M260.43 277.58A22.3 22.3 0 0 1 255.23 280.23" fill="none" stroke="#d9d9d9" stroke-width="5.4"/><text x="247.8" y="260.17" font-size="6.3" fill="#3a3a3a" text-anchor="middle" font-weight="normal" transform="rotate(0.05 247.8 260.17)" stroke="#3a3a3a" stroke-width="0.18" textLength="21.6" lengthAdjust="spacingAndGlyphs">95.82%</text><rect x="289.7" y="207.5" width="77.9" height="88.9" rx="3.5" fill="#fff" stroke="#e1e7ee" stroke-width="1"/><line x1="289.7" y1="226.3" x2="367.6" y2="226.3" stroke="#e6eaf0" stroke-width="0.6"/><text x="298.3" y="218.38" font-size="5.5" fill="#111" text-anchor="start" font-weight="bold" transform="rotate(0.05 298.3 218.38)" textLength="41.1" lengthAdjust="spacingAndGlyphs">PERFORMANCE</text><circle cx="328.1" cy="259.2" r="22.3" fill="none" stroke="#46b46f" stroke-width="5.4"/><path d="M341.05 277.35A22.3 22.3 0 0 1 322.8 280.86" fill="none" stroke="#d9d9d9" stroke-width="5.4"/><text x="328.1" y="260.17" font-size="6.3" fill="#3a3a3a" text-anchor="middle" font-weight="normal" transform="rotate(0.05 328.1 260.17)" stroke="#3a3a3a" stroke-width="0.18" textLength="21.6" lengthAdjust="spacingAndGlyphs">86.32%</text><rect x="370.7" y="207.5" width="77.4" height="88.9" rx="3.5" fill="#fff" stroke="#e1e7ee" stroke-width="1"/><line x1="370.7" y1="226.3" x2="448.1" y2="226.3" stroke="#e6eaf0" stroke-width="0.6"/><text x="378.3" y="218.38" font-size="5.5" fill="#111" text-anchor="start" font-weight="bold" transform="rotate(0.05 378.3 218.38)" textLength="24.4" lengthAdjust="spacingAndGlyphs">QUALITY</text><circle cx="408.4" cy="259.2" r="22.3" fill="none" stroke="#46b46f" stroke-width="5.4"/><path d="M423.75 275.38A22.3 22.3 0 0 1 417.36 279.62" fill="none" stroke="#d9d9d9" stroke-width="5.4"/><text x="408.4" y="260.17" font-size="6.3" fill="#3a3a3a" text-anchor="middle" font-weight="normal" transform="rotate(0.05 408.4 260.17)" stroke="#3a3a3a" stroke-width="0.18" textLength="21.6" lengthAdjust="spacingAndGlyphs">94.50%</text><rect x="450.5" y="207.5" width="134.1" height="88.9" rx="3.5" fill="#fff" stroke="#e1e7ee" stroke-width="1"/><line x1="450.5" y1="226.3" x2="584.6" y2="226.3" stroke="#e6eaf0" stroke-width="0.6"/><text x="460.2" y="220.45" font-size="7.37" fill="#111" text-anchor="start" font-weight="bold" transform="rotate(0.05 460.2 220.45)" textLength="55" lengthAdjust="spacingAndGlyphs">Active Machine</text><rect x="587.7" y="207.5" width="134" height="88.9" rx="3.5" fill="#fff" stroke="#e1e7ee" stroke-width="1"/><line x1="587.7" y1="226.3" x2="721.7" y2="226.3" stroke="#e6eaf0" stroke-width="0.6"/><text x="596.6" y="220.45" font-size="7.37" fill="#111" text-anchor="start" font-weight="bold" transform="rotate(0.05 596.6 220.45)" textLength="63.5" lengthAdjust="spacingAndGlyphs">Active Employees</text><circle cx="516.4" cy="257.9" r="25.5" fill="#5f91e9"/><path d="M516.4 257.9L490.9 257.9A25.5 25.5 0 0 1 505.91 234.66Z" fill="#d4503f"/><circle cx="653.7" cy="257.9" r="25.4" fill="#5f91e9"/><path d="M653.7 257.9L630.93 269.15A25.4 25.4 0 0 1 653.7 232.5Z" fill="#d4503f"/><rect x="128.3" y="299.3" width="102.4" height="55.1" rx="3.5" fill="#fff" stroke="#e1e7ee" stroke-width="1"/><text x="179.7" y="326.68" font-size="16.6" fill="#cb3128" text-anchor="middle" font-weight="normal" transform="rotate(0.05 179.7 326.68)">64.4</text><text x="179.7" y="345.85" font-size="5.7" fill="#222" text-anchor="middle" font-weight="normal" transform="rotate(0.05 179.7 345.85)">Unplanned Downtime</text><rect x="128.3" y="357.9" width="102.4" height="56.5" rx="3.5" fill="#fff" stroke="#e1e7ee" stroke-width="1"/><text x="179.9" y="388.69" font-size="15.1" fill="#333" text-anchor="middle" font-weight="normal" transform="rotate(0.05 179.9 388.69)">26.7</text><text x="179.7" y="406.65" font-size="5.7" fill="#222" text-anchor="middle" font-weight="normal" transform="rotate(0.05 179.7 406.65)">Planned Downtime</text><rect x="233.5" y="299.3" width="267.1" height="115.1" rx="3.5" fill="#fff" stroke="#e1e7ee" stroke-width="1"/><line x1="233.5" y1="316.5" x2="500.6" y2="316.5" stroke="#e6eaf0" stroke-width="0.6"/><text x="242.9" y="310.85" font-size="7.37" fill="#111" text-anchor="start" font-weight="bold" transform="rotate(0.05 242.9 310.85)" textLength="66.3" lengthAdjust="spacingAndGlyphs">OEE KPI&#8217;s by Batch</text><rect x="503.2" y="299.3" width="218.5" height="115.1" rx="3.5" fill="#fff" stroke="#e1e7ee" stroke-width="1"/><line x1="503.2" y1="316.5" x2="721.7" y2="316.5" stroke="#e6eaf0" stroke-width="0.6"/><text x="512.8" y="310.75" font-size="7.37" fill="#111" text-anchor="start" font-weight="bold" transform="rotate(0.05 512.8 310.75)" textLength="70.4" lengthAdjust="spacingAndGlyphs">Available Operators</text><line x1="253.5" y1="387.6" x2="494" y2="387.6" stroke="#dde1e6" stroke-width="0.5"/><line x1="253.5" y1="324" x2="253.5" y2="387.6" stroke="#dde1e6" stroke-width="0.5"/><rect x="257.9" y="333.5" width="1.8" height="53.9" rx="0" fill="#25a35a"/><rect x="261.08" y="336.2" width="1.8" height="51.2" rx="0" fill="#25a35a"/><rect x="264.26" y="339.1" width="1.8" height="48.3" rx="0" fill="#d43a22"/><rect x="267.45" y="332.1" width="1.8" height="55.3" rx="0" fill="#d43a22"/><rect x="270.63" y="328.8" width="1.8" height="58.6" rx="0" fill="#25a35a"/><rect x="273.81" y="336" width="1.8" height="51.4" rx="0" fill="#a21ff0"/><rect x="276.99" y="326.9" width="1.8" height="60.5" rx="0" fill="#3b7ff2"/><rect x="280.17" y="335" width="1.8" height="52.4" rx="0" fill="#a21ff0"/><rect x="283.36" y="330" width="1.8" height="57.4" rx="0" fill="#25a35a"/><rect x="286.54" y="341.3" width="1.8" height="46.1" rx="0" fill="#25a35a"/><rect x="289.72" y="338.3" width="1.8" height="49.1" rx="0" fill="#25a35a"/><rect x="292.9" y="333.5" width="1.8" height="53.9" rx="0" fill="#d43a22"/><rect x="296.08" y="333.5" width="1.8" height="53.9" rx="0" fill="#d43a22"/><rect x="299.27" y="336.2" width="1.8" height="51.2" rx="0" fill="#25a35a"/><rect x="302.45" y="336.2" width="1.8" height="51.2" rx="0" fill="#d43a22"/><rect x="305.63" y="333.5" width="1.8" height="53.9" rx="0" fill="#25a35a"/><rect x="308.81" y="330" width="1.8" height="57.4" rx="0" fill="#d43a22"/><rect x="311.99" y="339.3" width="1.8" height="48.1" rx="0" fill="#25a35a"/><rect x="315.18" y="337.2" width="1.8" height="50.2" rx="0" fill="#25a35a"/><rect x="318.36" y="335" width="1.8" height="52.4" rx="0" fill="#d43a22"/><rect x="321.54" y="336" width="1.8" height="51.4" rx="0" fill="#25a35a"/><rect x="324.72" y="333.5" width="1.8" height="53.9" rx="0" fill="#3b7ff2"/><rect x="327.9" y="330" width="1.8" height="57.4" rx="0" fill="#3b7ff2"/><rect x="331.09" y="346.9" width="1.8" height="40.5" rx="0" fill="#3b7ff2"/><rect x="334.27" y="346.9" width="1.8" height="40.5" rx="0" fill="#3b7ff2"/><rect x="337.45" y="341.3" width="1.8" height="46.1" rx="0" fill="#25a35a"/><rect x="340.63" y="339.3" width="1.8" height="48.1" rx="0" fill="#25a35a"/><rect x="343.81" y="333.5" width="1.8" height="53.9" rx="0" fill="#25a35a"/><rect x="347" y="335" width="1.8" height="52.4" rx="0" fill="#a21ff0"/><rect x="350.18" y="335" width="1.8" height="52.4" rx="0" fill="#a21ff0"/><rect x="353.36" y="333.5" width="1.8" height="53.9" rx="0" fill="#25a35a"/><rect x="356.54" y="333.5" width="1.8" height="53.9" rx="0" fill="#25a35a"/><rect x="359.72" y="336.2" width="1.8" height="51.2" rx="0" fill="#d43a22"/><rect x="362.91" y="339.1" width="1.8" height="48.3" rx="0" fill="#d43a22"/><rect x="366.09" y="332.1" width="1.8" height="55.3" rx="0" fill="#d43a22"/><rect x="369.27" y="328.8" width="1.8" height="58.6" rx="0" fill="#d43a22"/><rect x="372.45" y="336.2" width="1.8" height="51.2" rx="0" fill="#d43a22"/><rect x="375.63" y="326.9" width="1.8" height="60.5" rx="0" fill="#25a35a"/><rect x="378.82" y="335" width="1.8" height="52.4" rx="0" fill="#25a35a"/><rect x="382" y="330" width="1.8" height="57.4" rx="0" fill="#25a35a"/><rect x="385.18" y="341.3" width="1.8" height="46.1" rx="0" fill="#25a35a"/><rect x="388.36" y="338.3" width="1.8" height="49.1" rx="0" fill="#a21ff0"/><rect x="391.54" y="333.5" width="1.8" height="53.9" rx="0" fill="#25a35a"/><rect x="394.73" y="333.5" width="1.8" height="53.9" rx="0" fill="#3b7ff2"/><rect x="397.91" y="333.5" width="1.8" height="53.9" rx="0" fill="#25a35a"/><rect x="401.09" y="336.2" width="1.8" height="51.2" rx="0" fill="#25a35a"/><rect x="404.27" y="339.1" width="1.8" height="48.3" rx="0" fill="#d43a22"/><rect x="407.45" y="332.1" width="1.8" height="55.3" rx="0" fill="#d43a22"/><rect x="410.64" y="328.8" width="1.8" height="58.6" rx="0" fill="#25a35a"/><rect x="413.82" y="336" width="1.8" height="51.4" rx="0" fill="#a21ff0"/><rect x="417" y="326.9" width="1.8" height="60.5" rx="0" fill="#3b7ff2"/><rect x="420.18" y="335" width="1.8" height="52.4" rx="0" fill="#a21ff0"/><rect x="423.36" y="330" width="1.8" height="57.4" rx="0" fill="#25a35a"/><rect x="426.55" y="341.3" width="1.8" height="46.1" rx="0" fill="#25a35a"/><rect x="429.73" y="338.3" width="1.8" height="49.1" rx="0" fill="#25a35a"/><rect x="432.91" y="333.5" width="1.8" height="53.9" rx="0" fill="#d43a22"/><rect x="436.09" y="333.5" width="1.8" height="53.9" rx="0" fill="#d43a22"/><rect x="439.27" y="336.2" width="1.8" height="51.2" rx="0" fill="#25a35a"/><rect x="442.46" y="336.2" width="1.8" height="51.2" rx="0" fill="#d43a22"/><rect x="445.64" y="333.5" width="1.8" height="53.9" rx="0" fill="#25a35a"/><rect x="448.82" y="330" width="1.8" height="57.4" rx="0" fill="#d43a22"/><rect x="452" y="339.3" width="1.8" height="48.1" rx="0" fill="#25a35a"/><rect x="455.18" y="337.2" width="1.8" height="50.2" rx="0" fill="#25a35a"/><rect x="458.37" y="335" width="1.8" height="52.4" rx="0" fill="#d43a22"/><rect x="461.55" y="336" width="1.8" height="51.4" rx="0" fill="#25a35a"/><rect x="464.73" y="333.5" width="1.8" height="53.9" rx="0" fill="#3b7ff2"/><rect x="467.91" y="330" width="1.8" height="57.4" rx="0" fill="#3b7ff2"/><rect x="471.09" y="346.9" width="1.8" height="40.5" rx="0" fill="#3b7ff2"/><rect x="474.28" y="346.9" width="1.8" height="40.5" rx="0" fill="#3b7ff2"/><rect x="477.46" y="341.3" width="1.8" height="46.1" rx="0" fill="#25a35a"/><rect x="480.64" y="339.3" width="1.8" height="48.1" rx="0" fill="#25a35a"/><rect x="483.82" y="333.5" width="1.8" height="53.9" rx="0" fill="#25a35a"/><rect x="487" y="335" width="1.8" height="52.4" rx="0" fill="#a21ff0"/><rect x="490.19" y="335" width="1.8" height="52.4" rx="0" fill="#a21ff0"/><text x="251" y="326.72" font-size="3.4" fill="#555" text-anchor="end" font-weight="normal" transform="rotate(0.05 251 326.72)">100%</text><text x="251" y="342.52" font-size="3.4" fill="#555" text-anchor="end" font-weight="normal" transform="rotate(0.05 251 342.52)">75%</text><text x="251" y="358.42" font-size="3.4" fill="#555" text-anchor="end" font-weight="normal" transform="rotate(0.05 251 358.42)">50%</text><text x="251" y="373.82" font-size="3.4" fill="#555" text-anchor="end" font-weight="normal" transform="rotate(0.05 251 373.82)">25%</text><text x="251" y="389.62" font-size="3.4" fill="#555" text-anchor="end" font-weight="normal" transform="rotate(0.05 251 389.62)">0%</text><text x="265.9" y="394.55" font-size="3.2" fill="#222" text-anchor="middle" font-weight="normal" transform="rotate(0.05 265.9 394.55)">TRIALBAT</text><text x="265.9" y="398.55" font-size="3.2" fill="#222" text-anchor="middle" font-weight="normal" transform="rotate(0.05 265.9 398.55)">CH01</text><text x="288.8" y="394.55" font-size="3.2" fill="#222" text-anchor="middle" font-weight="normal" transform="rotate(0.05 288.8 394.55)">TRIALBATC</text><text x="288.8" y="398.55" font-size="3.2" fill="#222" text-anchor="middle" font-weight="normal" transform="rotate(0.05 288.8 398.55)">H02</text><text x="311.7" y="394.55" font-size="3.2" fill="#222" text-anchor="middle" font-weight="normal" transform="rotate(0.05 311.7 394.55)">TRIALBATC</text><text x="311.7" y="398.55" font-size="3.2" fill="#222" text-anchor="middle" font-weight="normal" transform="rotate(0.05 311.7 398.55)">H03</text><text x="334.6" y="394.55" font-size="3.2" fill="#222" text-anchor="middle" font-weight="normal" transform="rotate(0.05 334.6 394.55)">TRIALBATC</text><text x="334.6" y="398.55" font-size="3.2" fill="#222" text-anchor="middle" font-weight="normal" transform="rotate(0.05 334.6 398.55)">H04</text><text x="357.5" y="394.55" font-size="3.2" fill="#222" text-anchor="middle" font-weight="normal" transform="rotate(0.05 357.5 394.55)">Batch 001</text><text x="380.4" y="394.55" font-size="3.2" fill="#222" text-anchor="middle" font-weight="normal" transform="rotate(0.05 380.4 394.55)">Batch 002</text><text x="403.3" y="394.55" font-size="3.2" fill="#222" text-anchor="middle" font-weight="normal" transform="rotate(0.05 403.3 394.55)">Batch 003</text><text x="426.2" y="394.55" font-size="3.2" fill="#222" text-anchor="middle" font-weight="normal" transform="rotate(0.05 426.2 394.55)">Batch 004</text><text x="449.1" y="394.55" font-size="3.2" fill="#222" text-anchor="middle" font-weight="normal" transform="rotate(0.05 449.1 394.55)">Batch 005</text><text x="472" y="394.55" font-size="3.2" fill="#222" text-anchor="middle" font-weight="normal" transform="rotate(0.05 472 394.55)">Batch 006</text><circle cx="318.3" cy="407.5" r="2" fill="#d43a22"/><text x="322" y="409.08" font-size="4.4" fill="#d43a22" text-anchor="start" font-weight="normal" transform="rotate(0.05 322 409.08)">OEE</text><circle cx="335.3" cy="407.5" r="2" fill="#3b7ff2"/><text x="339" y="409.08" font-size="4.4" fill="#3b7ff2" text-anchor="start" font-weight="normal" transform="rotate(0.05 339 409.08)">Availability</text><circle cx="365.7" cy="407.5" r="2" fill="#a21ff0"/><text x="369.2" y="409.08" font-size="4.4" fill="#a21ff0" text-anchor="start" font-weight="normal" transform="rotate(0.05 369.2 409.08)">Performance</text><circle cx="400" cy="407.5" r="2" fill="#25a35a"/><text x="403.5" y="409.08" font-size="4.4" fill="#25a35a" text-anchor="start" font-weight="normal" transform="rotate(0.05 403.5 409.08)">Quality</text><line x1="523.7" y1="330.2" x2="523.7" y2="396.6" stroke="#dde1e6" stroke-width="0.5"/><line x1="523.7" y1="396.6" x2="698.5" y2="396.6" stroke="#dde1e6" stroke-width="0.5"/><text x="519.4" y="342.12" font-size="3.4" fill="#555" text-anchor="end" font-weight="normal" transform="rotate(0.05 519.4 342.12)">20</text><text x="519.4" y="356.42" font-size="3.4" fill="#555" text-anchor="end" font-weight="normal" transform="rotate(0.05 519.4 356.42)">15</text><text x="519.4" y="370.42" font-size="3.4" fill="#555" text-anchor="end" font-weight="normal" transform="rotate(0.05 519.4 370.42)">10</text><text x="519.4" y="384.12" font-size="3.4" fill="#555" text-anchor="end" font-weight="normal" transform="rotate(0.05 519.4 384.12)">5</text><text x="519.4" y="398.12" font-size="3.4" fill="#555" text-anchor="end" font-weight="normal" transform="rotate(0.05 519.4 398.12)">0%</text><rect x="536" y="362.1" width="12.4" height="34.5" rx="0" fill="#4ab87b" stroke="#35a065" stroke-width="0.6"/><text x="542.2" y="359.72" font-size="3.4" fill="#444" text-anchor="middle" font-weight="normal" transform="rotate(0.05 542.2 359.72)">13</text><text x="542.2" y="405.06" font-size="3.5" fill="#555" text-anchor="middle" font-weight="normal" transform="rotate(0.05 542.2 405.06)">01 Aug 2025</text><rect x="571.5" y="348.4" width="12.1" height="48.2" rx="0" fill="#4ab87b" stroke="#35a065" stroke-width="0.6"/><text x="577.55" y="346.02" font-size="3.4" fill="#444" text-anchor="middle" font-weight="normal" transform="rotate(0.05 577.55 346.02)">18</text><text x="577.55" y="405.06" font-size="3.5" fill="#555" text-anchor="middle" font-weight="normal" transform="rotate(0.05 577.55 405.06)">02 Aug 2025</text><rect x="606.7" y="340.9" width="12" height="55.7" rx="0" fill="#4ab87b" stroke="#35a065" stroke-width="0.6"/><text x="612.7" y="338.52" font-size="3.4" fill="#444" text-anchor="middle" font-weight="normal" transform="rotate(0.05 612.7 338.52)">20</text><text x="612.7" y="405.06" font-size="3.5" fill="#555" text-anchor="middle" font-weight="normal" transform="rotate(0.05 612.7 405.06)">03 Aug 2025</text><rect x="642.2" y="359.8" width="11.7" height="36.8" rx="0" fill="#4ab87b" stroke="#35a065" stroke-width="0.6"/><text x="648.05" y="357.42" font-size="3.4" fill="#444" text-anchor="middle" font-weight="normal" transform="rotate(0.05 648.05 357.42)">14</text><text x="648.05" y="405.06" font-size="3.5" fill="#555" text-anchor="middle" font-weight="normal" transform="rotate(0.05 648.05 405.06)">04 Aug 2025</text><rect x="676.7" y="354.9" width="12.4" height="41.7" rx="0" fill="#4ab87b" stroke="#35a065" stroke-width="0.6"/><text x="682.9" y="352.52" font-size="3.4" fill="#444" text-anchor="middle" font-weight="normal" transform="rotate(0.05 682.9 352.52)">15</text><text x="682.9" y="405.06" font-size="3.5" fill="#555" text-anchor="middle" font-weight="normal" transform="rotate(0.05 682.9 405.06)">05 Aug 2025</text></svg></div>
<div style="position:absolute;left:122px;top:1px;width:605px;height:1px;background:#c8c8c8"></div>
<div style="position:absolute;left:119.2px;top:8px;width:0.9px;height:413px;background:#a8a8a8"></div>
<div style="position:absolute;left:120.2px;top:33px;width:0.9px;height:388px;background:#f6f9fc"></div>
<svg style="position:absolute;left:0;top:0" width="734" height="437"><g fill="none" stroke-width="0.9" stroke-dasharray="0.9 3.1">
<path d="M115.4 4 V84" stroke="rgba(255,255,255,.75)"/>
<path d="M115.6 392 V429" stroke="rgba(255,255,255,.8)"/>
<path d="M116 430 Q117 433 121 433.6 H724 Q730 433 731.6 428 V8" stroke="rgba(200,200,200,.4)"/>
</g></svg>
</body></html>
